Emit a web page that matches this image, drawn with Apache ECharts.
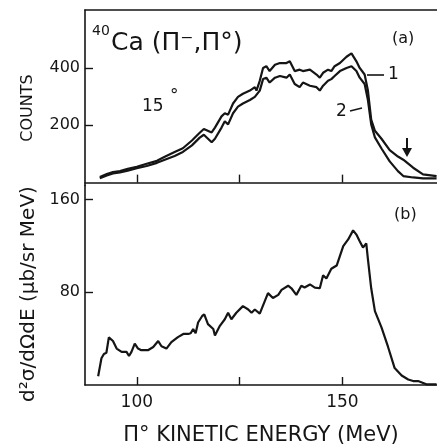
<!DOCTYPE html>
<html>
<head>
<meta charset="utf-8">
<script src="https://cdn.jsdelivr.net/npm/echarts@6/dist/echarts.min.js"></script>
<style>
html,body{margin:0;padding:0;background:#fff;}
#chart{width:437px;height:447px;}
</style>
</head>
<body>
<div id="chart"></div>
<script>
// ---- data ----
const energyTop = [91.0,92.7,94.2,95.9,97.8,100.0,102.4,104.9,106.8,109.2,111.2,113.4,115.3,116.3,118.2,119.0,120.6,121.4,122.2,123.4,124.6,125.8,127.5,128.7,129.1,129.9,130.7,131.5,132.3,133.6,134.8,136.4,137.2,138.4,139.6,140.4,142.1,143.7,144.5,145.3,146.5,147.3,148.1,149.4,151.0,152.2,153.4,154.2,155.4,156.2,157.0,157.9,159.5,161.5,163.5,164.8,167.2,169.6,172.9];
const counts1 = [20,30,37,40,48,55,66,76,90,107,120,147,174,187,175,192,231,242,237,276,299,310,321,333,321,355,400,406,389,411,417,417,423,389,394,389,394,377,366,383,394,389,406,417,439,451,423,400,377,321,220,181,153,113,91,80,52,29,23];
const counts2 = [15,25,32,36,42,50,58,69,80,93,107,130,157,167,141,153,192,214,203,242,265,276,288,299,305,321,361,366,349,366,372,366,377,344,333,349,338,333,321,338,355,361,372,389,400,406,389,366,344,288,203,158,119,74,40,23,18,15,15];

const energyBot = [90.6,91.4,92.0,92.6,93.2,94.2,95.1,96.3,97.5,98.1,98.7,99.5,100.3,101.1,102.7,104.0,105.2,106.0,107.2,108.4,110.0,111.3,112.5,113.1,113.7,114.3,114.9,115.9,116.4,117.3,118.6,119.0,120.2,121.4,122.2,123.0,124.2,125.8,127.1,127.9,128.7,129.9,131.9,133.1,134.4,135.2,136.8,137.6,138.8,140.0,140.8,142.1,143.3,144.5,145.3,146.1,147.3,148.6,149.4,150.2,151.4,152.6,153.4,154.2,155.0,155.8,156.2,157.0,157.9,159.5,161.1,162.7,164.4,166.0,167.2,168.4,170.4,172.9];
const xsec = [7.6,23,26.7,27.8,41,37.9,31.4,28.6,28.6,25,28.6,35.6,31.4,30,30,32.8,37.9,33.4,31.4,37,41.3,44,44,44.6,48.3,44.6,53.9,59.5,60.9,52.5,48.3,42.7,51,56.7,62.3,56.7,62.3,68,65.1,62.3,65.1,61.5,79.2,75,77.7,82,85.6,83.4,77.7,85.6,84,86.7,84,83.4,94.6,91.8,100.2,103,111.4,119.8,125.5,133.3,129.7,124,118.5,122.1,108.6,83.4,63.7,49.7,32.8,14.6,8.2,4.8,3.4,3.4,0.6,0.6];

const topTicks = [200,400];
const botTicks = [80,160];
const xTicks = [100,125,150];
const xLabels = [100,150];

const pair = (xs, ys) => xs.map((x,i)=>[x, ys[i]]);

const INK = '#151515';
const FONT = 'DejaVu Sans';

const chart = echarts.init(document.getElementById('chart'), null, {renderer:'canvas'});

const axLine = {show:true, lineStyle:{color:INK, width:1.6}};

chart.setOption({
  backgroundColor:'#fff',
  animation:false,
  grid:[
    {left:85, top:10, right:0, height:175.5},
    {left:85, top:185.5, right:0, height:203.5}
  ],
  xAxis:[
    {gridIndex:0, type:'value', min:87.4, max:173, position:'bottom',
      axisLine:axLine, splitLine:{show:false},
      axisTick:{show:true, inside:true, length:8, customValues:xTicks, lineStyle:{color:INK,width:1.4}},
      axisLabel:{show:false}},
    {gridIndex:0, type:'value', min:87.4, max:173, position:'top',
      axisLine:axLine, splitLine:{show:false}, axisTick:{show:false}, axisLabel:{show:false}},
    {gridIndex:1, type:'value', min:87.4, max:173, position:'bottom',
      axisLine:axLine, splitLine:{show:false},
      axisTick:{show:true, inside:true, length:8, customValues:xTicks, lineStyle:{color:INK,width:1.4}},
      axisLabel:{show:true, customValues:xLabels, margin:9, color:INK, fontFamily:FONT, fontSize:17},
      name:'Π° KINETIC ENERGY (MeV)', nameLocation:'middle', nameGap:40,
      nameTextStyle:{color:INK, fontFamily:FONT, fontSize:21}}
  ],
  yAxis:[
    {gridIndex:0, type:'value', min:-10, max:602,
      axisLine:axLine, splitLine:{show:false},
      axisTick:{show:true, inside:true, length:8, customValues:topTicks, lineStyle:{color:INK,width:1.4}},
      axisLabel:{show:true, customValues:topTicks, margin:5, color:INK, fontFamily:FONT, fontSize:16}},
    {gridIndex:1, type:'value', min:0, max:172,
      axisLine:axLine, splitLine:{show:false},
      axisTick:{show:true, inside:true, length:8, customValues:botTicks, lineStyle:{color:INK,width:1.4}},
      axisLabel:{show:true, customValues:botTicks, margin:5, color:INK, fontFamily:FONT, fontSize:16}}
  ],
  series:[
    {type:'line', xAxisIndex:0, yAxisIndex:0, data:pair(energyTop,counts1), showSymbol:false,
      lineStyle:{color:INK, width:2.2}},
    {type:'line', xAxisIndex:0, yAxisIndex:0, data:pair(energyTop,counts2), showSymbol:false,
      lineStyle:{color:INK, width:2.2}},
    {type:'line', xAxisIndex:2, yAxisIndex:1, data:pair(energyBot,xsec), showSymbol:false,
      lineStyle:{color:INK, width:2.2}}
  ],
  graphic:[
    {type:'text', x:28, y:108, rotation:Math.PI/2,
      style:{text:'COUNTS', fill:INK, font:'16px "DejaVu Sans"', align:'center', verticalAlign:'middle'}},
    {type:'text', x:29, y:294, rotation:Math.PI/2,
      style:{text:'d²σ/dΩdE (μb/sr MeV)', fill:INK, font:'20px "DejaVu Sans"', align:'center', verticalAlign:'middle'}},
    {type:'text', left:92, top:24, style:{text:'40', fill:INK, font:'14px "DejaVu Sans"'}},
    {type:'text', left:111, top:31, style:{text:'Ca (Π⁻,Π°)', fill:INK, font:'25px "DejaVu Sans"'}},
    {type:'text', left:392, top:31, style:{text:'(a)', fill:INK, font:'16px "DejaVu Sans"'}},
    {type:'text', left:394, top:207, style:{text:'(b)', fill:INK, font:'16px "DejaVu Sans"'}},
    {type:'text', left:142, top:98, style:{text:'15', fill:INK, font:'17px "DejaVu Sans"'}},
    {type:'text', left:170, top:88, style:{text:'°', fill:INK, font:'17px "DejaVu Sans"'}},
    {type:'line', shape:{x1:367,y1:75,x2:384,y2:75}, style:{stroke:INK, lineWidth:1.6}},
    {type:'text', left:388, top:66, style:{text:'1', fill:INK, font:'17px "DejaVu Sans"'}},
    {type:'text', left:336, top:103, style:{text:'2', fill:INK, font:'17px "DejaVu Sans"'}},
    {type:'line', shape:{x1:350,y1:111,x2:362,y2:108}, style:{stroke:INK, lineWidth:1.6}},
    {type:'line', shape:{x1:407,y1:138,x2:407,y2:150}, style:{stroke:INK, lineWidth:2}},
    {type:'polygon', shape:{points:[[402,148],[412,148],[407,157]]}, style:{fill:INK}}
  ]
});
</script>
</body>
</html>
